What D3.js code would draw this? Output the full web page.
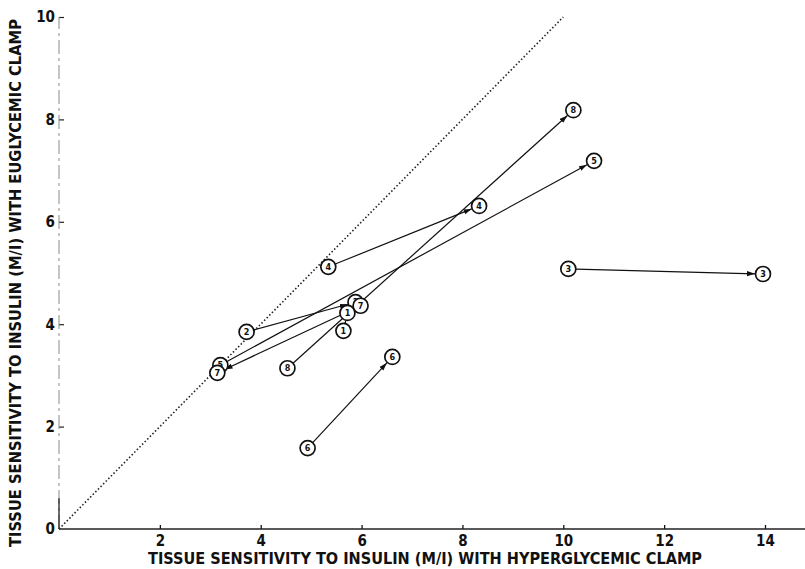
<!DOCTYPE html>
<html>
<head>
<meta charset="utf-8">
<script src="https://cdn.jsdelivr.net/npm/d3@7"></script>
<style>
body { margin: 0; background: #fff; }
svg { display: block; }
text { font-family: "DejaVu Sans Condensed", "Liberation Sans Narrow", "Arial Narrow", sans-serif; font-weight: bold; fill: #111; }
</style>
</head>
<body>
<div id="graphic"></div>
<script>
// patient numbers and the two studies of each (hyperglycemic x, euglycemic y)
const patients = ["3", "6", "4", "8", "5", "2", "1", "7"];
const hyperFrom = [10.1, 4.93, 5.34, 4.53, 3.2, 3.72, 5.64, 5.98];
const eugFrom = [5.08, 1.58, 5.12, 3.14, 3.2, 3.85, 3.87, 4.36];
const hyperTo = [13.96, 6.61, 8.33, 10.2, 10.61, 5.88, 5.72, 3.14];
const eugTo = [4.98, 3.36, 6.31, 8.18, 7.19, 4.43, 4.22, 3.05];

const xTicks = [2, 4, 6, 8, 10, 12, 14];
const yTicks = [0, 2, 4, 6, 8, 10];
const identity = [0, 10];

const width = 805, height = 569;
const r = 7.5;

const svg = d3.select("#graphic")
    .append("svg")
    .attr("width", width)
    .attr("height", height);

const x = d3.scaleLinear().domain([0, 14]).range([59, 765]);
const y = d3.scaleLinear().domain([0, 10]).range([529, 17]);

// arrow head
svg.append("defs").append("marker")
    .attr("id", "head")
    .attr("markerUnits", "userSpaceOnUse")
    .attr("viewBox", "0 -3 8 6")
    .attr("refX", 8)
    .attr("refY", 0)
    .attr("markerWidth", 8)
    .attr("markerHeight", 6)
    .attr("orient", "auto")
    .append("path")
        .attr("d", "M0,-2.6L8,0L0,2.6Z")
        .attr("fill", "#111");

// x axis
const xAxis = svg.append("g")
    .attr("transform", `translate(0, ${y(0)})`)
    .call(d3.axisBottom(x).tickValues(xTicks).tickSizeInner(-4).tickSizeOuter(0).tickPadding(6));
xAxis.select(".domain").remove();
xAxis.selectAll("line").attr("stroke", "#111").attr("stroke-width", 1.3);
xAxis.selectAll("text").style("font-size", "15px");
svg.append("line")
    .attr("x1", x(0)).attr("x2", width)
    .attr("y1", y(0)).attr("y2", y(0))
    .attr("stroke", "#222")
    .attr("stroke-width", 1.4);

// y axis (faint, broken line in the original)
const yAxis = svg.append("g")
    .attr("transform", `translate(${x(0)}, 0)`)
    .call(d3.axisLeft(y).tickValues(yTicks).tickSizeInner(-5).tickSizeOuter(0).tickPadding(4));
yAxis.select(".domain").remove();
yAxis.selectAll("line").attr("stroke", "#222").attr("stroke-width", 1.2);
yAxis.selectAll(".tick").filter(d => d === 0).select("line").remove();
yAxis.selectAll("text").style("font-size", "15px");
svg.append("line")
    .attr("x1", x(0)).attr("x2", x(0))
    .attr("y1", y(0)).attr("y2", y(10))
    .attr("stroke", "#8a8a8a")
    .attr("stroke-width", 1)
    .attr("stroke-dasharray", "14,4,3,4");
svg.append("line")
    .attr("x1", x(0)).attr("x2", x(0))
    .attr("y1", y(0)).attr("y2", y(0.6))
    .attr("stroke", "#222")
    .attr("stroke-width", 1.3);

// line of identity
svg.append("line")
    .attr("x1", x(identity[0])).attr("y1", y(identity[0]))
    .attr("x2", x(identity[1])).attr("y2", y(identity[1]))
    .attr("stroke", "#222")
    .attr("stroke-width", 1.6)
    .attr("stroke-dasharray", "1.5,2.2");

// arrows from first to second study, trimmed to the circle edges
const pairs = patients.map((p, i) => ({
    id: p,
    x1: x(hyperFrom[i]), y1: y(eugFrom[i]),
    x2: x(hyperTo[i]), y2: y(eugTo[i])
}));

svg.append("g")
    .selectAll("line")
    .data(pairs)
    .join("line")
    .each(function(d) {
        const dx = d.x2 - d.x1, dy = d.y2 - d.y1;
        const len = Math.sqrt(dx * dx + dy * dy);
        const ux = dx / len, uy = dy / len;
        d3.select(this)
            .attr("x1", d.x1 + ux * r)
            .attr("y1", d.y1 + uy * r)
            .attr("x2", d.x2 - ux * (r + 0.5))
            .attr("y2", d.y2 - uy * (r + 0.5));
    })
    .attr("stroke", "#111")
    .attr("stroke-width", 1.2)
    .attr("marker-end", "url(#head)");

// circles with the patient number
const points = [];
pairs.forEach(d => {
    points.push({id: d.id, cx: d.x1, cy: d.y1});
    points.push({id: d.id, cx: d.x2, cy: d.y2});
});

const node = svg.append("g")
    .selectAll("g")
    .data(points)
    .join("g")
    .attr("transform", d => `translate(${d.cx}, ${d.cy})`);

node.append("circle")
    .attr("r", r)
    .attr("fill", "#fff")
    .attr("stroke", "#111")
    .attr("stroke-width", 1.7);

node.append("text")
    .text(d => d.id)
    .attr("text-anchor", "middle")
    .attr("dy", "0.36em")
    .style("font-size", "9px");

// axis titles
svg.append("text")
    .attr("x", 425)
    .attr("y", 564)
    .attr("text-anchor", "middle")
    .attr("textLength", 554)
    .attr("lengthAdjust", "spacingAndGlyphs")
    .style("font-size", "15px")
    .text("TISSUE SENSITIVITY TO INSULIN (M/I) WITH HYPERGLYCEMIC CLAMP");

svg.append("text")
    .attr("transform", "translate(20.5, 283) rotate(-90)")
    .attr("text-anchor", "middle")
    .attr("textLength", 528)
    .attr("lengthAdjust", "spacingAndGlyphs")
    .style("font-size", "15px")
    .text("TISSUE SENSITIVITY TO INSULIN (M/I) WITH EUGLYCEMIC CLAMP");
</script>
</body>
</html>
